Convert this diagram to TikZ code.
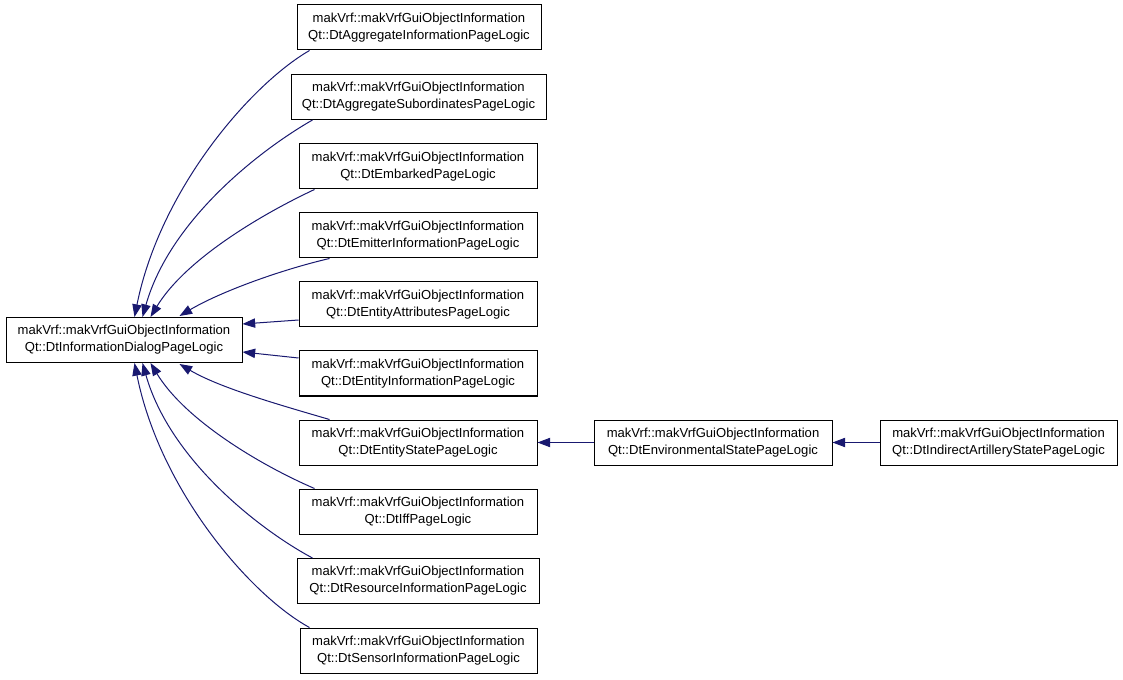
\documentclass[tikz,border=0pt]{standalone}
\usepackage{fontspec}
\setmainfont{Liberation Sans}
\usetikzlibrary{arrows.meta,calc}
\definecolor{edgeblue}{RGB}{25,25,112}
\tikzset{
  cls/.style={draw=black, line width=0.75pt, rectangle, inner sep=0pt, align=center,
    minimum height=33.75pt, font=\fontsize{9.8}{12.75}\selectfont, text=black},
  edge/.style={draw=edgeblue, line width=0.75pt,
    -{Triangle[length=9.5pt,width=7pt,fill=edgeblue]}}
}
\begin{document}
\begin{tikzpicture}[x=0.75pt,y=-0.75pt]
\useasboundingbox (0,0) rectangle (1123,680);
\node[cls, minimum width=177pt] (main) at (124,340) {makVrf::makVrfGuiObjectInformation\\Qt::DtInformationDialogPageLogic};
\node[cls, minimum width=183pt] (b1) at (419,27.5) {makVrf::makVrfGuiObjectInformation\\Qt::DtAggregateInformationPageLogic};
\node[cls, minimum width=191.25pt] (b2) at (418.5,97) {makVrf::makVrfGuiObjectInformation\\Qt::DtAggregateSubordinatesPageLogic};
\node[cls, minimum width=178.5pt] (b3) at (418,166.5) {makVrf::makVrfGuiObjectInformation\\Qt::DtEmbarkedPageLogic};
\node[cls, minimum width=178.5pt] (b4) at (418,235.5) {makVrf::makVrfGuiObjectInformation\\Qt::DtEmitterInformationPageLogic};
\node[cls, minimum width=178.5pt] (b5) at (418,304.5) {makVrf::makVrfGuiObjectInformation\\Qt::DtEntityAttributesPageLogic};
\node[cls, minimum width=178.5pt] (b6) at (418,373.5) {makVrf::makVrfGuiObjectInformation\\Qt::DtEntityInformationPageLogic};
\node[cls, minimum width=178.5pt] (b7) at (418,442.5) {makVrf::makVrfGuiObjectInformation\\Qt::DtEntityStatePageLogic};
\node[cls, minimum width=178.5pt] (b8) at (418,511.5) {makVrf::makVrfGuiObjectInformation\\Qt::DtIffPageLogic};
\node[cls, minimum width=181.5pt] (b9) at (418,581) {makVrf::makVrfGuiObjectInformation\\Qt::DtResourceInformationPageLogic};
\node[cls, minimum width=177.75pt] (b10) at (418.5,650.5) {makVrf::makVrfGuiObjectInformation\\Qt::DtSensorInformationPageLogic};
\node[cls, minimum width=178.5pt] (env) at (713,442.5) {makVrf::makVrfGuiObjectInformation\\Qt::DtEnvironmentalStatePageLogic};
\node[cls, minimum width=177.75pt] (ind) at (998.5,442.5) {makVrf::makVrfGuiObjectInformation\\Qt::DtIndirectArtilleryStatePageLogic};

\draw[edge] ($(b1.south west)+(13,0)$) .. controls (250,85) and (160,190) .. ($(main.north west)+(129,0)$);
\draw[edge] ($(b2.south west)+(22,0)$) .. controls (260,150) and (170,220) .. ($(main.north west)+(137,0)$);
\draw[edge] ($(b3.south west)+(16,0)$) .. controls (260,215) and (185,260) .. ($(main.north west)+(145,0)$);
\draw[edge] ($(b4.south west)+(31,0)$) .. controls (280,270) and (220,292) .. ($(main.north west)+(174,-1)$);
\draw[edge] ($(b5.west)+(0,15.5)$) -- ($(main.east)+(0,-16)$);
\draw[edge] ($(b6.west)+(0,-15.5)$) -- ($(main.east)+(0,12)$);
\draw[edge] ($(b7.north west)+(31,0)$) .. controls (280,405) and (220,388) .. ($(main.south west)+(174,1)$);
\draw[edge] ($(b8.north west)+(16,0)$) .. controls (260,465) and (185,420) .. ($(main.south west)+(145,0)$);
\draw[edge] ($(b9.north west)+(16,0)$) .. controls (260,530) and (170,460) .. ($(main.south west)+(137,0)$);
\draw[edge] ($(b10.north west)+(10,0)$) .. controls (250,595) and (160,490) .. ($(main.south west)+(129,0)$);
\draw[edge] (env.west) -- (b7.east);
\draw[edge] (ind.west) -- (env.east);
\end{tikzpicture}
\end{document}
